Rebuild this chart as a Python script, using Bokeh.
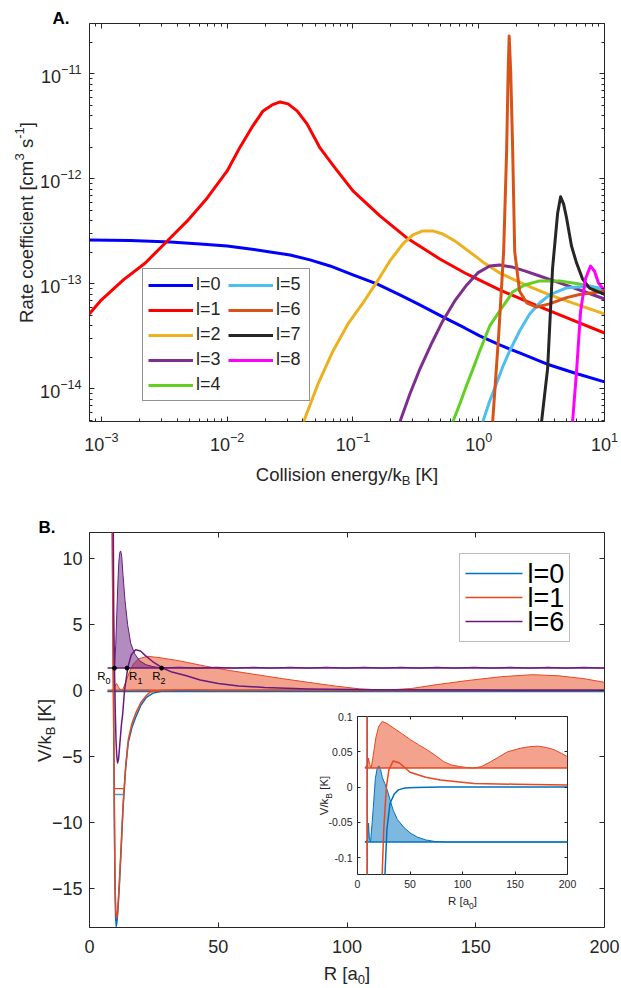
import math
from bokeh.plotting import figure
from bokeh.models import (LogAxis, LinearAxis, FixedTicker, Label, Legend, LegendItem,
                          BoxAnnotation, GridBox, NumeralTickFormatter, Range1d,
                          CustomJSTickFormatter)
from bokeh.embed import file_html
from bokeh.resources import INLINE

FONT = "Liberation Sans"
AX = "#262626"

# ---------------- Panel A data: rate coefficient vs collision energy ----------------
E_l0 = [8.0e-4, 1.699e-3, 3.528e-3, 6.105e-3, 1.0e-2, 1.522e-2, 2.194e-2, 3.162e-2, 4.557e-2,
        6.569e-2, 0.1, 0.155, 0.236, 0.3402, 0.5179, 0.7743, 1.018, 1.468, 2.115, 3.465, 5.78, 10.0]
k_l0 = [2.624e-13, 2.594e-13, 2.512e-13, 2.404e-13, 2.301e-13, 2.153e-13, 2.017e-13, 1.888e-13,
        1.694e-13, 1.484e-13, 1.219e-13, 1.0e-13, 7.86e-14, 6.31e-14, 4.85e-14, 3.81e-14, 3.20e-14,
        2.624e-14, 2.203e-14, 1.730e-14, 1.419e-14, 1.167e-14]
E_l1 = [8.0e-4, 9.82e-4, 1.495e-3, 2.235e-3, 3.40e-3, 4.82e-3, 6.94e-3, 1.0e-2, 1.268e-2, 1.579e-2,
        1.93e-2, 2.276e-2, 2.634e-2, 3.049e-2, 3.594e-2, 4.314e-2, 5.47e-2, 7.195e-2, 0.1, 0.1638,
        0.2683, 0.4903, 0.803, 1.468, 2.683, 5.275, 10.0]
k_l1 = [5.18e-14, 6.89e-14, 1.092e-13, 1.585e-13, 2.624e-13, 3.981e-13, 6.59e-13, 1.191e-12,
        2.018e-12, 3.126e-12, 4.446e-12, 5.07e-12, 5.41e-12, 5.18e-12, 4.446e-12, 3.342e-12,
        1.972e-12, 1.274e-12, 7.69e-13, 4.446e-13, 2.742e-13, 1.730e-13, 1.245e-13, 8.77e-14,
        6.46e-14, 4.645e-14, 3.41e-14]
E_l2 = [3.797e-2, 5.275e-2, 6.94e-2, 9.127e-2, 0.1201, 0.155, 0.1966, 0.2493, 0.2993, 0.3594,
        0.4313, 0.5179, 0.6449, 0.8483, 1.076, 1.468, 2.002, 2.683, 3.66, 5.275, 7.603, 10.0]
k_l2 = [3.98e-15, 1.117e-14, 2.301e-14, 4.159e-14, 6.59e-14, 1.045e-13, 1.656e-13, 2.404e-13,
        2.931e-13, 3.199e-13, 3.199e-13, 2.992e-13, 2.570e-13, 2.017e-13, 1.621e-13, 1.274e-13,
        1.069e-13, 9.16e-14, 7.86e-14, 6.74e-14, 5.78e-14, 5.18e-14]
E_l3 = [0.2234, 0.236, 0.2835, 0.3402, 0.4236, 0.5179, 0.6449, 0.803, 0.982, 1.223, 1.468, 1.828,
        2.318, 3.049, 4.395, 6.689, 10.0]
k_l3 = [3.98e-15, 4.853e-15, 8.95e-15, 1.549e-14, 2.742e-14, 4.446e-14, 6.89e-14, 9.78e-14,
        1.274e-13, 1.484e-13, 1.517e-13, 1.452e-13, 1.330e-13, 1.191e-13, 1.023e-13, 8.57e-14, 7.19e-14]
E_l4 = [0.5886, 0.6218, 0.7066, 0.803, 0.9127, 1.018, 1.223, 1.468, 1.668, 1.862, 2.318, 3.049,
        4.395, 6.334, 10.0]
k_l4 = [4.07e-15, 4.853e-15, 7.19e-15, 1.092e-14, 1.622e-14, 2.301e-14, 3.981e-14, 5.53e-14,
        6.89e-14, 8.39e-14, 9.78e-14, 1.069e-13, 1.069e-13, 1.0e-13, 8.77e-14]
E_l5 = [1.018, 1.076, 1.223, 1.389, 1.55, 1.762, 2.115, 2.54, 3.049, 3.66, 4.994, 7.603, 10.0]
k_l5 = [3.89e-15, 4.853e-15, 7.69e-15, 1.140e-14, 1.622e-14, 2.301e-14, 3.565e-14, 5.18e-14,
        6.59e-14, 7.86e-14, 9.16e-14, 9.57e-14, 8.95e-14]
E_l6 = [1.276, 1.442, 1.578, 1.667, 1.714, 1.746, 1.795, 1.862, 1.932, 2.113, 2.404, 2.884, 3.656,
        4.989, 6.339, 10.0]
k_l6 = [4.0e-15, 3.31e-14, 2.04e-13, 1.86e-12, 1.07e-11, 2.29e-11, 1.07e-11, 1.86e-12, 2.04e-13,
        8.51e-14, 6.61e-14, 6.03e-14, 6.46e-14, 7.41e-14, 7.94e-14, 8.51e-14]
E_l7 = [3.10, 3.532, 3.864, 4.236, 4.477, 4.732, 4.989, 5.470, 5.998, 6.683, 7.603, 10.0]
k_l7 = [4.0e-15, 1.58e-14, 1.41e-13, 4.68e-13, 6.76e-13, 5.75e-13, 4.27e-13, 2.29e-13, 1.58e-13,
        1.12e-13, 9.12e-14, 7.94e-14]
E_l8 = [5.50, 5.998, 6.457, 7.063, 7.745, 8.337, 8.954, 10.0]
k_l8 = [4.0e-15, 1.48e-14, 5.50e-14, 1.12e-13, 1.48e-13, 1.32e-13, 1.02e-13, 8.71e-14]

labels_A = ["l=0", "l=1", "l=2", "l=3", "l=4", "l=5", "l=6", "l=7", "l=8"]
colors_A = ["#0000FF", "#FF0000", "#EDB120", "#7E2F8E", "#62CF22", "#4DBEEE", "#D95319", "#262626", "#FF00FF"]
x_ticks_A = [1e-3, 1e-2, 1e-1, 1e0, 1e1]
y_ticks_A = [1e-14, 1e-13, 1e-12, 1e-11]

# ---------------- Panel B data: potentials and wavefunctions ----------------
R_V0 = [8.8, 9.0, 9.3, 9.6, 9.9, 10.15, 10.4, 10.7, 11.0, 11.6, 12.3, 13.0, 14.0, 15.0, 16.5, 18.0,
        20.0, 22.0, 24.5, 26.0, 28.0, 31.0, 35.0, 39.0, 45.0, 55.0, 80.0, 200.0]
V_l0 = [14.0, 8.0, 0.0, -8.0, -15.0, -17.3, -17.9, -17.5, -16.8, -14.8, -12.0, -9.0, -6.0, -4.0,
        -2.8, -2.0, -1.1, -0.55, -0.22, -0.13, -0.06, -0.023, -0.010, -0.004, -0.0015, -0.0005, 0.0, 0.0]
R_V1 = [8.8, 9.0, 9.3, 9.6, 9.9, 10.2, 10.5, 10.8, 11.1, 11.7, 12.4, 13.1, 14.1, 15.1, 16.5, 18.0,
        20.0, 22.0, 23.5, 25.0, 27.5, 30.0, 34.0, 40.0, 50.0, 65.0, 79.0, 111.0, 150.0, 200.0]
V_l1 = [14.0, 8.0, 0.0, -8.0, -14.5, -16.8, -17.3, -17.0, -16.2, -14.2, -11.4, -8.5, -5.6, -3.7,
        -2.5, -1.7, -0.9, -0.4, -0.124, -0.06, 0.0, 0.025, 0.037, 0.034, 0.021, 0.014, 0.010, 0.005,
        0.004, 0.003]
R_V6 = [9.2, 9.4, 9.7, 10.0, 10.3, 10.6, 10.9, 11.3, 11.8, 12.4, 12.9, 13.6, 14.9, 16.2, 17.9, 19.8,
        21.7, 24.5, 28.0, 32.0, 37.3, 43.0, 50.0, 58.0, 68.0, 85.0, 110.0, 150.0, 200.0]
V_l6 = [14.0, 6.0, 1.75, -1.5, -3.8, -5.0, -5.5, -5.2, -4.0, -2.6, -1.75, 0.0, 1.75, 2.7, 3.1, 3.0,
        2.65, 2.2, 1.75, 1.4, 1.14, 0.8, 0.53, 0.35, 0.23, 0.12, 0.06, 0.03, 0.015]

# collision energies (wavefunction baselines) and grid span
E_l0_level = -0.078
E_l1_level = 0.027
E_l6_level = 1.7
R_span = [7.0, 200.0]
# bound levels shown inside the well
R_bound = [9.4, 13.3]
Eb_l0 = -7.9
Eb_l1 = -7.45
# classical turning points for l=6
R_turn = [9.7, 14.6, 28.0]
turn_names = ["0", "1", "2"]

# |psi|^2 (shifted) as drawn in the main panel
R_w1_main = [9.0, 9.8, 10.5, 11.3, 12.2, 13.0, 14.0, 15.5, 17.0, 19.0, 22.5, 27.0, 35.0, 45.0, 55.0,
             65.0, 75.0, 85.0, 95.0, 105.0, 115.0, 125.0, 135.0, 147.0, 160.0, 172.0, 182.0, 192.0, 200.0]
W_l1_main = [0.03, 0.3, 0.53, 0.25, 0.03, 0.1, 0.6, 1.4, 2.0, 2.4, 2.6, 2.5, 2.25, 1.85, 1.5, 1.2,
             0.9, 0.62, 0.35, 0.12, 0.03, 0.15, 0.45, 0.76, 1.05, 1.2, 1.12, 0.9, 0.62]
R_w6 = [9.6, 9.8, 10.2, 10.6, 11.0, 11.4, 11.8, 12.1, 12.5, 13.0, 13.8, 14.8, 16.0, 17.5, 19.5, 22.0,
        25.0, 28.0, 35.0, 42.0, 49.3, 56.5, 63.6, 70.8, 78.0, 85.0, 92.0, 99.5, 106.5, 114.0, 121.0,
        128.0, 135.0, 142.0, 149.5, 156.5, 163.5, 171.0, 178.0, 185.0, 192.0, 199.0, 200.0]
W_l6 = [1.7, 2.0, 3.5, 5.8, 8.0, 9.8, 10.5, 10.6, 10.2, 8.8, 6.8, 5.0, 3.6, 2.8, 2.25, 1.95, 1.8,
        1.72, 1.77, 1.7, 1.77, 1.7, 1.77, 1.7, 1.77, 1.7, 1.77, 1.7, 1.77, 1.7, 1.77, 1.7, 1.77, 1.7,
        1.77, 1.7, 1.77, 1.7, 1.77, 1.7, 1.77, 1.7, 1.72]
# |psi|^2 (shifted) as drawn in the inset
R_w0 = [7.0, 9.8, 10.5, 11.3, 12.4, 14.0, 15.5, 17.0, 18.8, 20.3, 22.0, 23.5, 26.0, 28.5, 31.0, 34.0,
        38.0, 44.0, 50.0, 57.0, 65.0, 73.0, 85.0, 200.0]
W_l0 = [-0.078, -0.074, -0.051, -0.072, -0.078, -0.050, -0.020, 0.012, 0.027, 0.030, 0.025, 0.014,
        0.005, -0.005, -0.018, -0.033, -0.046, -0.057, -0.065, -0.071, -0.075, -0.077, -0.078, -0.078]
R_w1 = [7.0, 9.5, 10.5, 11.5, 13.0, 15.0, 17.5, 20.0, 23.5, 28.0, 34.0, 42.0, 50.5, 58.0, 66.0, 74.0,
        82.0, 90.0, 98.0, 104.0, 111.0, 118.0, 127.0, 135.0, 143.0, 155.0, 163.0, 172.0, 180.0, 187.0,
        194.0, 200.0]
W_l1 = [0.027, 0.032, 0.041, 0.032, 0.027, 0.045, 0.070, 0.085, 0.093, 0.090, 0.084, 0.076, 0.067,
        0.060, 0.053, 0.045, 0.036, 0.031, 0.029, 0.0275, 0.027, 0.029, 0.036, 0.043, 0.050, 0.055,
        0.057, 0.058, 0.056, 0.053, 0.048, 0.043]

labels_B = ["l=0", "l=1", "l=6"]
C0, C1, C6 = "#0072BD", "#E8461E", "#681A7E"
x_ticks_B = [0, 50, 100, 150, 200]
y_ticks_B = [-15, -10, -5, 0, 5, 10]
y_ticks_I = [-0.1, -0.05, 0, 0.05, 0.1]

# ---------------- helpers ----------------
W = {' ': 278, '[': 278, ']': 278, '/': 278, '=': 584, '-': 333, '.': 278,
     'A': 667, 'B': 667, 'C': 722, 'K': 667, 'R': 722, 'V': 667,
     'a': 556, 'c': 500, 'e': 556, 'f': 278, 'g': 556, 'i': 222, 'k': 500, 'l': 222,
     'm': 833, 'n': 556, 'o': 556, 'r': 333, 's': 500, 't': 278, 'y': 500}


def tw(s, size):
    return sum(W.get(ch, 556) for ch in s) * size / 1000.0


def compose(fig, pieces, ax, ay, dx=0.0, dy=0.0, align="center", angle=0.0, color=AX,
            style="normal"):
    """Place a run of text pieces (text, size_px, downward shift px) whose baseline is at the anchor."""
    total = sum(tw(t, s) for t, s, _ in pieces)
    adv = {"left": 0.0, "center": -total / 2.0, "right": -total}[align]
    for t, s, sh in pieces:
        st = t.lstrip(" ")
        adv += tw(t[:len(t) - len(st)], s)
        up = sh - 0.35 * s  # middle of the em box above the baseline
        if angle == 0:
            ox, oy = dx + adv, dy + up
        else:
            ox, oy = dx + up, dy - adv
        fig.add_layout(Label(x=ax, y=ay, x_offset=ox, y_offset=-oy, text=st, text_font=FONT,
                             text_font_size=f"{s}px", text_color=color, text_align="left",
                             text_baseline="middle", angle=angle, text_font_style=style))
        adv += tw(st, s)


def style_axis(a, size, standoff, tick_in=5, minor_in=3):
    a.axis_line_color = None
    a.major_tick_line_color = AX
    a.minor_tick_line_color = AX
    a.major_tick_in = tick_in
    a.major_tick_out = 0
    a.minor_tick_in = minor_in
    a.minor_tick_out = 0
    a.major_label_text_font = FONT
    a.major_label_text_font_size = size
    a.major_label_text_color = AX
    a.major_label_standoff = standoff
    a.axis_label = None


def tick_only(a, tick_in=5, minor_in=3):
    style_axis(a, "1px", 0, tick_in, minor_in)
    a.formatter = CustomJSTickFormatter(code="return ''")


def base_fig(fig):
    fig.xgrid.visible = False
    fig.ygrid.visible = False
    fig.outline_line_color = AX
    fig.outline_line_width = 1
    fig.background_fill_color = "white"


# ---------------- Panel A ----------------
pA = figure(width=621, height=492, x_axis_type="log", y_axis_type="log",
            x_range=Range1d(8.04e-4, 10.0), y_range=Range1d(4.9e-15, 3.02e-11),
            output_backend="svg", toolbar_location=None, title=None,
            min_border_left=89, min_border_right=17, min_border_top=23, min_border_bottom=71)
base_fig(pA)
x_minor_A = [float(f"{m}e{d}") for d in range(-4, 1) for m in range(2, 10)]
y_minor_A = [float(f"{m}e{d}") for d in range(-15, -10) for m in range(2, 10)]
xtA = FixedTicker(ticks=x_ticks_A, minor_ticks=x_minor_A)
ytA = FixedTicker(ticks=y_ticks_A, minor_ticks=y_minor_A)
pA.xaxis[0].ticker = xtA
pA.yaxis[0].ticker = ytA
style_axis(pA.xaxis[0], "18px", 10)
style_axis(pA.yaxis[0], "18px", 8)
topA = LogAxis(ticker=xtA)
rightA = LogAxis(ticker=ytA)
tick_only(topA)
tick_only(rightA)
pA.add_layout(topA, "above")
pA.add_layout(rightA, "right")

series_A = [(E_l0, k_l0), (E_l1, k_l1), (E_l2, k_l2), (E_l3, k_l3), (E_l4, k_l4),
            (E_l5, k_l5), (E_l6, k_l6), (E_l7, k_l7), (E_l8, k_l8)]
items = []
for (E, k), lab, c in zip(series_A, labels_A, colors_A):
    r = pA.line(E, k, line_color=c, line_width=3, line_join="round")
    items.append(LegendItem(label=lab, renderers=[r]))

legA = Legend(items=items, location=(53, 20), orientation="vertical", nrows=5,
              border_line_color=AX, border_line_width=1, background_fill_color="white",
              background_fill_alpha=1.0, label_text_font=FONT, label_text_font_size="18px",
              label_text_color=AX, glyph_width=45, glyph_height=18, label_height=18,
              label_width=28, label_standoff=3, spacing=4, padding=5, margin=0)
pA.add_layout(legA)

# ---------------- Panel B ----------------
pB = figure(width=621, height=496, x_range=Range1d(0, 200), y_range=Range1d(-18, 12),
            output_backend="svg", toolbar_location=None, title=None,
            min_border_left=89, min_border_right=17, min_border_top=40, min_border_bottom=61)
base_fig(pB)
xtB = FixedTicker(ticks=x_ticks_B, minor_ticks=[])
ytB = FixedTicker(ticks=y_ticks_B, minor_ticks=[])
pB.xaxis[0].ticker = xtB
pB.yaxis[0].ticker = ytB
style_axis(pB.xaxis[0], "18px", 12)
style_axis(pB.yaxis[0], "18px", 7)
topB = LinearAxis(ticker=xtB)
rightB = LinearAxis(ticker=ytB)
tick_only(topB)
tick_only(rightB)
pB.add_layout(topB, "above")
pB.add_layout(rightB, "right")

# wavefunction fills
pB.varea(x=R_w1_main, y1=E_l1_level, y2=W_l1_main, fill_color=C1, fill_alpha=0.5)
pB.line(R_w1_main, W_l1_main, line_color=C1, line_width=1)
pB.varea(x=R_w0, y1=E_l0_level, y2=W_l0, fill_color=C0, fill_alpha=0.5)
pB.line(R_w0, W_l0, line_color=C0, line_width=1)
pB.varea(x=R_w6, y1=E_l6_level, y2=W_l6, fill_color=C6, fill_alpha=0.5)
pB.line(R_w6, W_l6, line_color=C6, line_width=1)
# baselines (energies)
pB.line(R_span, [E_l0_level] * 2, line_color=C0, line_width=1.5)
pB.line(R_span, [E_l1_level] * 2, line_color=C1, line_width=1.5)
pB.line(R_span, [E_l6_level] * 2, line_color=C6, line_width=1.5)
pB.line(R_bound, [Eb_l0] * 2, line_color=C0, line_width=1.5, line_alpha=0.7)
pB.line(R_bound, [Eb_l1] * 2, line_color=C1, line_width=1.2)
# potentials
pB.line(R_V0, V_l0, line_color=C0, line_width=1.5, line_join="round")
pB.line(R_V1, V_l1, line_color=C1, line_width=1.5, line_join="round")
pB.line(R_V6, V_l6, line_color=C6, line_width=1.5, line_join="round")
# turning points
pB.scatter(R_turn, [E_l6_level] * 3, size=4, color="black")
for Rt, nm, al, dxo in zip(R_turn, turn_names, ["right", "left", "right"], [-4, 2, 4]):
    compose(pB, [("R", 11.5, 0), (nm, 9, 4)], Rt, E_l6_level, dx=dxo, dy=12,
            align=al, color="black")

# manual legend for panel B (screen units, relative to frame)
leg_l, leg_r, leg_t, leg_b = 370, 480, 374, 286
pB.add_layout(BoxAnnotation(left=leg_l, right=leg_r, top=leg_t, bottom=leg_b,
                            left_units="screen", right_units="screen", top_units="screen",
                            bottom_units="screen", fill_color="white", fill_alpha=1.0,
                            line_color=AX, line_width=1, level="annotation"))
for i, (lab, c) in enumerate(zip(labels_B, [C0, C1, C6])):
    yc = leg_t - 20 - 24 * i
    pB.add_layout(BoxAnnotation(left=leg_l + 6, right=leg_l + 63, top=yc + 0.8, bottom=yc - 0.8,
                                left_units="screen", right_units="screen", top_units="screen",
                                bottom_units="screen", fill_color=c, fill_alpha=1.0,
                                line_alpha=0.0, level="annotation"))
    pB.add_layout(Label(x=leg_l + 68, y=yc, x_units="screen", y_units="screen", text=lab,
                        text_font=FONT, text_font_size="27px", text_color="black",
                        text_baseline="middle", text_align="left"))

# ---------------- Inset ----------------
pI = figure(width=272, height=210, x_range=Range1d(0, 200), y_range=Range1d(-0.124, 0.1),
            output_backend="svg", toolbar_location=None, title=None,
            min_border_left=45, min_border_right=17, min_border_top=10, min_border_bottom=42)
base_fig(pI)
pI.frame_align = False
pI.border_fill_color = None
xtI = FixedTicker(ticks=x_ticks_B, minor_ticks=[])
ytI = FixedTicker(ticks=y_ticks_I, minor_ticks=[])
pI.xaxis[0].ticker = xtI
pI.yaxis[0].ticker = ytI
pI.yaxis[0].formatter = NumeralTickFormatter(format="0.[00]")
style_axis(pI.xaxis[0], "10.5px", 5, tick_in=3)
style_axis(pI.yaxis[0], "10.5px", 5, tick_in=3)
topI = LinearAxis(ticker=xtI)
rightI = LinearAxis(ticker=ytI)
tick_only(topI, tick_in=3)
tick_only(rightI, tick_in=3)
pI.add_layout(topI, "above")
pI.add_layout(rightI, "right")

pI.varea(x=R_w1, y1=E_l1_level, y2=W_l1, fill_color=C1, fill_alpha=0.5)
pI.line(R_w1, W_l1, line_color=C1, line_width=1)
pI.varea(x=R_w0, y1=E_l0_level, y2=W_l0, fill_color=C0, fill_alpha=0.5)
pI.line(R_w0, W_l0, line_color=C0, line_width=1)
pI.line(R_span, [E_l1_level] * 2, line_color=C1, line_width=1.5)
pI.line(R_span, [E_l0_level] * 2, line_color=C0, line_width=1.5)
pI.line(R_V0, V_l0, line_color=C0, line_width=1.5, line_join="round")
pI.line(R_V1, V_l1, line_color=C1, line_width=1.5, line_join="round")

# ---------------- transparent overlay carrying titles / axis labels (page pixel space) ----------------
pO = figure(width=621, height=988, x_range=Range1d(0, 621), y_range=Range1d(988, 0),
            output_backend="svg", toolbar_location=None, title=None,
            x_axis_location=None, y_axis_location=None, min_border=0)
pO.frame_align = False
pO.xgrid.visible = False
pO.ygrid.visible = False
pO.outline_line_color = None
pO.background_fill_color = None
pO.border_fill_color = None

compose(pO, [("A.", 17, 0)], 52, 24, align="left", style="bold", color="black")
compose(pO, [("Collision energy/k", 18.5, 0), ("B", 13, 5), (" [K]", 18.5, 0)], 346.5, 480)
compose(pO, [("Rate coefficient [cm", 18.5, 0), ("3", 13, -8), (" s", 18.5, 0), ("-1", 13, -8),
             ("]", 18.5, 0)], 32, 222, angle=math.pi / 2)
compose(pO, [("B.", 17, 0)], 38, 533, align="left", style="bold", color="black")
compose(pO, [("R [a", 18.5, 0), ("0", 13, 5), ("]", 18.5, 0)], 346.5, 979)
compose(pO, [("V/k", 18.5, 0), ("B", 13, 5), (" [K]", 18.5, 0)], 50, 730, angle=math.pi / 2)
compose(pO, [("R [a", 11.5, 0), ("0", 8.5, 3), ("]", 11.5, 0)], 462, 905)
compose(pO, [("V/k", 11.5, 0), ("B", 8.5, 3), (" [K]", 11.5, 0)], 328, 795, angle=math.pi / 2)

grid = GridBox(children=[(pA, 0, 0, 1, 3), (pB, 1, 0, 3, 3), (pI, 2, 1, 1, 1), (pO, 0, 0, 4, 3)],
               rows=["492px", "214px", "210px", "72px"], cols=["312px", "272px", "37px"],
               spacing=0)

open("out.html", "w").write(file_html(grid, INLINE, "Rate coefficients"))
